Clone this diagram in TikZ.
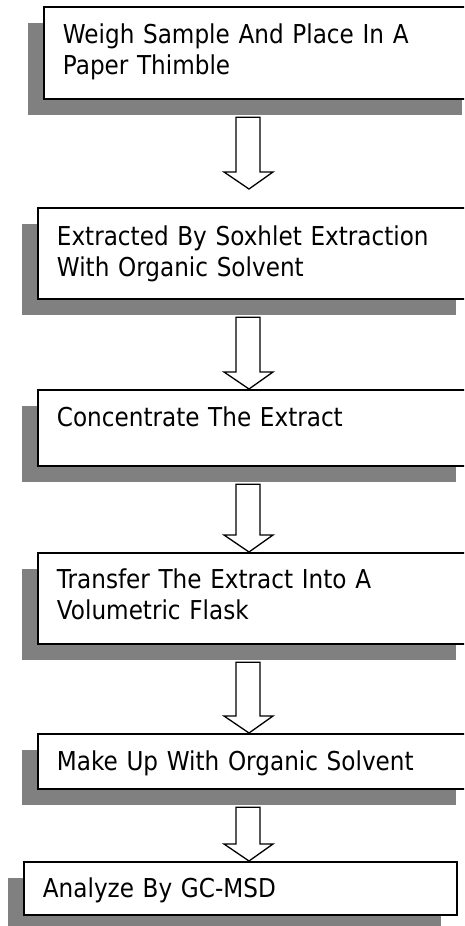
\documentclass[tikz,border=0pt]{standalone}
\usepackage{fontspec}
\setmainfont{DejaVu Sans}[FakeStretch=0.89]
\usetikzlibrary{shadows,calc}
\definecolor{shadowgray}{HTML}{808080}
\tikzset{
  stepbox/.style={draw, line width=1.8pt, fill=white, anchor=north west,
    align=left, text width=396pt, inner xsep=19pt, inner ysep=0pt,
    text height=37pt, font=\fontsize{26pt}{31pt}\selectfont,
    drop shadow={shadow xshift=-16pt, shadow yshift=-16.5pt,
      fill=shadowgray, opacity=1}},
  blockarrow/.style={draw, line width=1.3pt, fill=white, line join=miter}
}
\newcommand{\flowarrow}[3][0pt]{%
  \path[blockarrow] let \p1=(#2.south), \p2=(#3.north) in
    (236pt,\y1-17.5pt) -- (236pt,\y2+#1+17pt) -- (224pt,\y2+#1+17pt)
    -- (249pt,\y2+#1) -- (273pt,\y2+#1+17pt) -- (260pt,\y2+#1+17pt)
    -- (260pt,\y1-17.5pt) -- cycle;}

\begin{document}
\begin{tikzpicture}[x=1pt,y=1pt]
  \useasboundingbox (0,0) rectangle (464,-926);
  \clip (0,0) rectangle (464,-926);
  \node[stepbox,text depth=55pt] (weigh) at (43,-6)
    {Weigh Sample And Place In A\\Paper Thimble};
  \node[stepbox,text height=38pt,text depth=53pt] (soxhlet) at (37,-207)
    {Extracted By Soxhlet Extraction\\With Organic Solvent};
  \node[stepbox,text depth=39pt] (concentrate) at (37,-389)
    {Concentrate The Extract};
  \node[stepbox,text height=36pt,text depth=55pt] (transfer) at (37,-552)
    {Transfer The Extract Into A\\Volumetric Flask};
  \node[stepbox,text depth=18pt] (makeup) at (37,-733)
    {Make Up With Organic Solvent};
  \node[stepbox,text width=395pt,text height=36pt,text depth=17pt] (analyze) at (23,-861)
    {Analyze By GC-MSD};
  \flowarrow[18pt]{weigh}{soxhlet}
  \flowarrow{soxhlet}{concentrate}
  \flowarrow{concentrate}{transfer}
  \flowarrow{transfer}{makeup}
  \flowarrow{makeup}{analyze}
\end{tikzpicture}
\end{document}
